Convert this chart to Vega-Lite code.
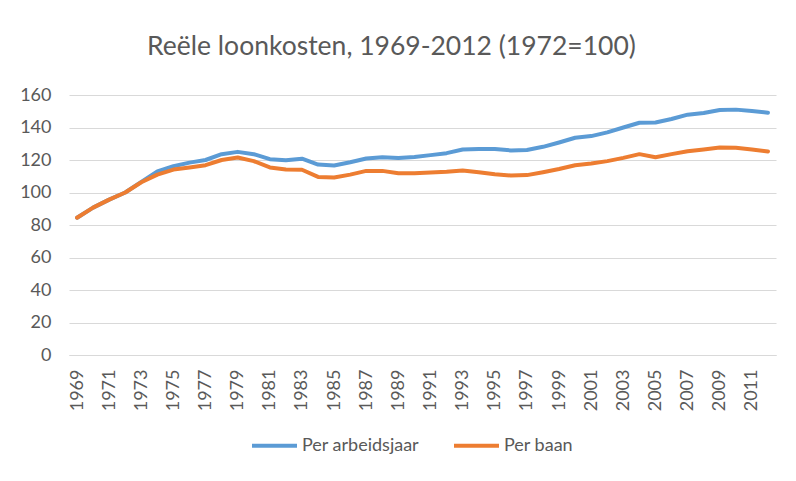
{
  "$schema": "https://vega.github.io/schema/vega-lite/v6.json",
  "width": 707,
  "height": 260,
  "autosize": {"type": "none"},
  "padding": {"left": 69, "top": 95, "right": 20, "bottom": 126},
  "background": "white",
  "title": {
    "text": "Reële loonkosten, 1969-2012 (1972=100)",
    "font": "Lato",
    "fontSize": 26.5,
    "fontWeight": "normal",
    "color": "#595959",
    "anchor": "middle",
    "dx": -31,
    "offset": 26
  },
  "config": {
    "view": {"stroke": null},
    "font": "Lato"
  },
  "data": {
    "values": [
      {"year": 1969, "series": "Per arbeidsjaar", "value": 84.5},
      {"year": 1970, "series": "Per arbeidsjaar", "value": 90.7},
      {"year": 1971, "series": "Per arbeidsjaar", "value": 95.6},
      {"year": 1972, "series": "Per arbeidsjaar", "value": 100},
      {"year": 1973, "series": "Per arbeidsjaar", "value": 106.5},
      {"year": 1974, "series": "Per arbeidsjaar", "value": 113},
      {"year": 1975, "series": "Per arbeidsjaar", "value": 116.2},
      {"year": 1976, "series": "Per arbeidsjaar", "value": 118.4},
      {"year": 1977, "series": "Per arbeidsjaar", "value": 120},
      {"year": 1978, "series": "Per arbeidsjaar", "value": 123.6},
      {"year": 1979, "series": "Per arbeidsjaar", "value": 125},
      {"year": 1980, "series": "Per arbeidsjaar", "value": 123.6},
      {"year": 1981, "series": "Per arbeidsjaar", "value": 120.5},
      {"year": 1982, "series": "Per arbeidsjaar", "value": 119.8},
      {"year": 1983, "series": "Per arbeidsjaar", "value": 120.8},
      {"year": 1984, "series": "Per arbeidsjaar", "value": 117.2},
      {"year": 1985, "series": "Per arbeidsjaar", "value": 116.6},
      {"year": 1986, "series": "Per arbeidsjaar", "value": 118.6},
      {"year": 1987, "series": "Per arbeidsjaar", "value": 120.9},
      {"year": 1988, "series": "Per arbeidsjaar", "value": 121.7},
      {"year": 1989, "series": "Per arbeidsjaar", "value": 121.3},
      {"year": 1990, "series": "Per arbeidsjaar", "value": 121.9},
      {"year": 1991, "series": "Per arbeidsjaar", "value": 123},
      {"year": 1992, "series": "Per arbeidsjaar", "value": 124.2},
      {"year": 1993, "series": "Per arbeidsjaar", "value": 126.5},
      {"year": 1994, "series": "Per arbeidsjaar", "value": 126.7},
      {"year": 1995, "series": "Per arbeidsjaar", "value": 126.7},
      {"year": 1996, "series": "Per arbeidsjaar", "value": 125.9},
      {"year": 1997, "series": "Per arbeidsjaar", "value": 126.2},
      {"year": 1998, "series": "Per arbeidsjaar", "value": 128.1},
      {"year": 1999, "series": "Per arbeidsjaar", "value": 130.8},
      {"year": 2000, "series": "Per arbeidsjaar", "value": 133.7},
      {"year": 2001, "series": "Per arbeidsjaar", "value": 134.7},
      {"year": 2002, "series": "Per arbeidsjaar", "value": 137},
      {"year": 2003, "series": "Per arbeidsjaar", "value": 140},
      {"year": 2004, "series": "Per arbeidsjaar", "value": 142.9},
      {"year": 2005, "series": "Per arbeidsjaar", "value": 143.1},
      {"year": 2006, "series": "Per arbeidsjaar", "value": 145.2},
      {"year": 2007, "series": "Per arbeidsjaar", "value": 147.9},
      {"year": 2008, "series": "Per arbeidsjaar", "value": 148.9},
      {"year": 2009, "series": "Per arbeidsjaar", "value": 150.8},
      {"year": 2010, "series": "Per arbeidsjaar", "value": 151},
      {"year": 2011, "series": "Per arbeidsjaar", "value": 150.1},
      {"year": 2012, "series": "Per arbeidsjaar", "value": 149.1},
      {"year": 1969, "series": "Per baan", "value": 84.5},
      {"year": 1970, "series": "Per baan", "value": 90.7},
      {"year": 1971, "series": "Per baan", "value": 95.6},
      {"year": 1972, "series": "Per baan", "value": 100},
      {"year": 1973, "series": "Per baan", "value": 106.3},
      {"year": 1974, "series": "Per baan", "value": 111},
      {"year": 1975, "series": "Per baan", "value": 114.1},
      {"year": 1976, "series": "Per baan", "value": 115.4},
      {"year": 1977, "series": "Per baan", "value": 116.8},
      {"year": 1978, "series": "Per baan", "value": 120},
      {"year": 1979, "series": "Per baan", "value": 121.5},
      {"year": 1980, "series": "Per baan", "value": 119.3},
      {"year": 1981, "series": "Per baan", "value": 115.4},
      {"year": 1982, "series": "Per baan", "value": 114.1},
      {"year": 1983, "series": "Per baan", "value": 114},
      {"year": 1984, "series": "Per baan", "value": 109.6},
      {"year": 1985, "series": "Per baan", "value": 109.2},
      {"year": 1986, "series": "Per baan", "value": 111},
      {"year": 1987, "series": "Per baan", "value": 113.3},
      {"year": 1988, "series": "Per baan", "value": 113.3},
      {"year": 1989, "series": "Per baan", "value": 111.9},
      {"year": 1990, "series": "Per baan", "value": 111.9},
      {"year": 1991, "series": "Per baan", "value": 112.3},
      {"year": 1992, "series": "Per baan", "value": 112.7},
      {"year": 1993, "series": "Per baan", "value": 113.5},
      {"year": 1994, "series": "Per baan", "value": 112.5},
      {"year": 1995, "series": "Per baan", "value": 111.2},
      {"year": 1996, "series": "Per baan", "value": 110.4},
      {"year": 1997, "series": "Per baan", "value": 110.7},
      {"year": 1998, "series": "Per baan", "value": 112.5},
      {"year": 1999, "series": "Per baan", "value": 114.5},
      {"year": 2000, "series": "Per baan", "value": 116.8},
      {"year": 2001, "series": "Per baan", "value": 117.8},
      {"year": 2002, "series": "Per baan", "value": 119.3},
      {"year": 2003, "series": "Per baan", "value": 121.3},
      {"year": 2004, "series": "Per baan", "value": 123.6},
      {"year": 2005, "series": "Per baan", "value": 121.7},
      {"year": 2006, "series": "Per baan", "value": 123.6},
      {"year": 2007, "series": "Per baan", "value": 125.4},
      {"year": 2008, "series": "Per baan", "value": 126.5},
      {"year": 2009, "series": "Per baan", "value": 127.7},
      {"year": 2010, "series": "Per baan", "value": 127.5},
      {"year": 2011, "series": "Per baan", "value": 126.5},
      {"year": 2012, "series": "Per baan", "value": 125.2}
    ]
  },
  "mark": {"type": "line", "strokeWidth": 4, "strokeCap": "round", "strokeJoin": "round"},
  "encoding": {
    "x": {
      "field": "year",
      "type": "ordinal",
      "scale": {"type": "point", "padding": 0.5},
      "axis": {
        "title": null,
        "values": [1969,1971,1973,1975,1977,1979,1981,1983,1985,1987,1989,1991,1993,1995,1997,1999,2001,2003,2005,2007,2009,2011],
        "labelAngle": 270,
        "labelFont": "Lato",
        "labelFontSize": 18,
        "labelColor": "#595959",
        "labelPadding": 14,
        "ticks": false,
        "domainColor": "#D9D9D9",
        "domainWidth": 1,
        "grid": false
      }
    },
    "y": {
      "field": "value",
      "type": "quantitative",
      "scale": {"domain": [0, 160], "nice": false},
      "axis": {
        "title": null,
        "values": [0, 20, 40, 60, 80, 100, 120, 140, 160],
        "labelFont": "Lato",
        "labelFontSize": 18,
        "labelColor": "#595959",
        "labelPadding": 18,
        "ticks": false,
        "domain": false,
        "grid": true,
        "gridColor": "#D9D9D9",
        "gridWidth": 1
      }
    },
    "color": {
      "field": "series",
      "type": "nominal",
      "scale": {"domain": ["Per arbeidsjaar", "Per baan"], "range": ["#5B9BD5", "#ED7D31"]},
      "legend": {
        "title": null,
        "orient": "none",
        "direction": "horizontal",
        "legendX": 181,
        "legendY": 326,
        "symbolType": "stroke",
        "symbolSize": 2025,
        "symbolStrokeWidth": 4,
        "labelFont": "Lato",
        "labelFontSize": 18,
        "labelColor": "#595959",
        "labelOffset": 3,
        "columnPadding": 26
      }
    }
  }
}
